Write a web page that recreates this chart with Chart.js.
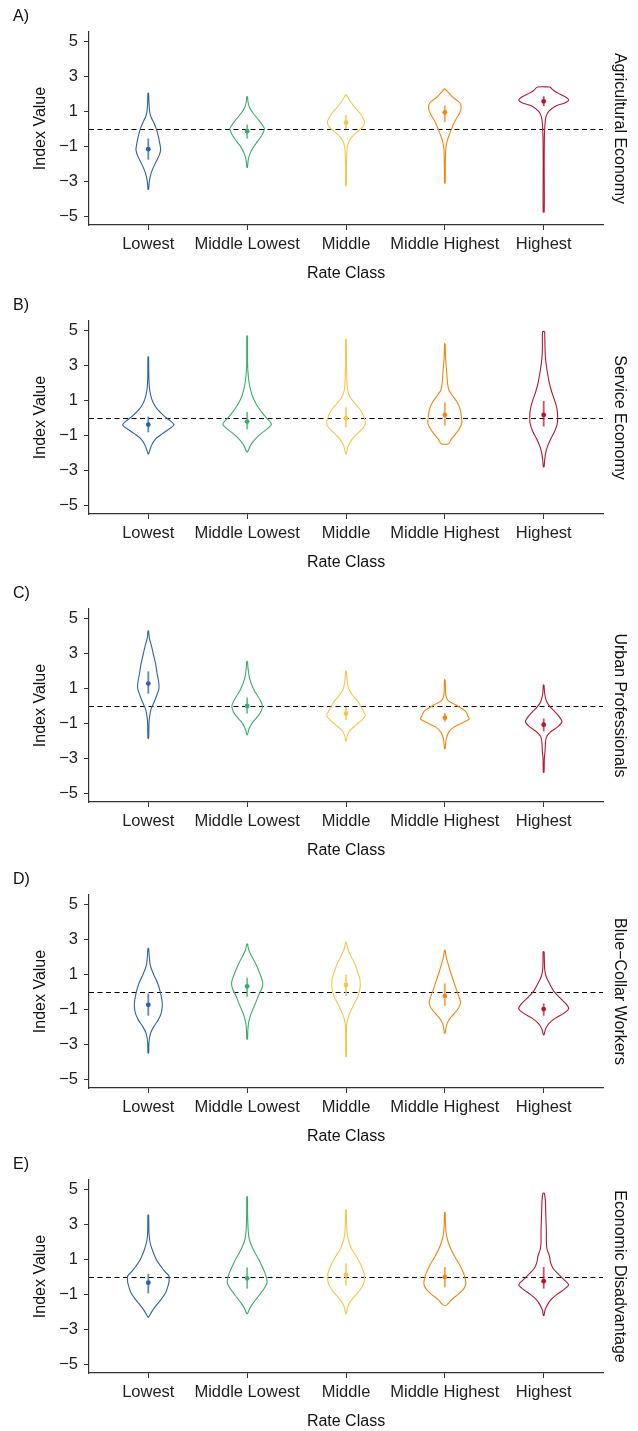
<!DOCTYPE html>
<html>
<head>
<meta charset="utf-8">
<script src="https://cdn.jsdelivr.net/npm/chart.js@4"></script>
<style>
  html, body { margin: 0; padding: 0; background: #fff; }
  #wrap { position: relative; width: 638px; height: 1431px; overflow: hidden; }
  #wrap canvas { position: absolute; left: 0; }
</style>
</head>
<body>
<div id="wrap"></div>
<script>
// --- data ---
var categories = ["Lowest", "Middle Lowest", "Middle", "Middle Highest", "Highest"];
var panelLetters = ["A)", "B)", "C)", "D)", "E)"];
var indexNames = ["Agricultural Economy", "Service Economy", "Urban Professionals", "Blue\u2212Collar Workers", "Economic Disadvantage"];
var yTicks = [-5, -3, -1, 1, 3, 5];
var refValue = 0;

// point estimate per rate class, one row per panel
var means = [
    [-1.16, -0.13, 0.36, 0.95, 1.58],
    [-0.38, -0.21, -0.02, 0.17, 0.17],
    [1.28, 0.0, -0.44, -0.67, -1.07],
    [-0.74, 0.32, 0.40, -0.23, -0.98],
    [-0.33, -0.08, 0.11, 0.0, -0.24]
];
var barLow = [
    [-1.76, -0.55, 0.0, 0.40, 1.30],
    [-0.82, -0.65, -0.55, -0.44, -0.49],
    [0.70, -0.44, -0.82, -0.91, -1.45],
    [-1.36, -0.28, -0.23, -0.79, -1.36],
    [-0.94, -0.67, -0.50, -0.59, -0.67]
];
var barHigh = [
    [-0.55, 0.25, 0.78, 1.35, 1.87],
    [0.08, 0.34, 0.61, 0.89, 0.97],
    [1.98, 0.48, -0.06, -0.40, -0.72],
    [-0.10, 0.81, 1.00, 0.49, -0.66],
    [0.18, 0.54, 0.77, 0.56, 0.57]
];

// violin outlines: [value, density width], top to bottom
var violinsA = [
    [[2.05,1],[1.5,2],[1.0,4],[0.7,8],[0.3,18],[0,24],[-0.5,31],[-1.0,36],[-1.2,37],[-1.5,33],[-2.0,20],[-2.5,9],[-3.0,3],[-3.45,1]],
    [[1.85,1],[1.5,3],[1.2,8],[0.9,18],[0.5,35],[0.1,50],[0,52],[-0.3,46],[-0.7,32],[-1.0,20],[-1.4,9],[-1.8,3],[-2.2,1]],
    [[1.95,1],[1.6,12],[1.3,24],[1.0,38],[0.6,52],[0.35,56],[0.1,50],[-0.2,32],[-0.5,16],[-0.8,7],[-1.2,3],[-2.0,1.5],[-3.25,1]],
    [[2.3,1],[2.1,10],[1.8,25],[1.5,45],[1.2,49],[0.9,44],[0.5,32],[0.2,24],[0,20],[-0.3,14],[-0.7,7],[-1.1,3],[-2.0,1.5],[-3.1,1]],
    [[2.4,19],[2.2,30],[2.0,48],[1.8,68],[1.65,75],[1.5,65],[1.3,35],[1.0,15],[0.7,7],[0.3,4],[0,3],[-0.5,2],[-2.0,1.5],[-4.75,1.5]]
];
var violinsB = [
    [[3.5,1],[2.5,1.5],[1.8,3],[1.3,7],[0.9,14],[0.5,27],[0.1,48],[-0.2,68],[-0.4,77],[-0.6,65],[-0.9,42],[-1.2,22],[-1.6,9],[-2.05,1]],
    [[4.7,1],[3.0,1.5],[2.3,4],[1.8,8],[1.3,15],[0.8,27],[0.3,45],[0,58],[-0.35,73],[-0.6,62],[-0.9,42],[-1.2,25],[-1.5,12],[-1.95,1]],
    [[4.5,1],[3.0,1.5],[2.0,3],[1.6,5],[1.2,12],[0.9,24],[0.5,42],[0.1,53],[-0.35,58],[-0.7,45],[-1.0,28],[-1.4,12],[-1.7,5],[-2.05,1]],
    [[4.25,1],[3.5,2],[3.0,4],[2.5,6],[2.0,8],[1.6,12],[1.3,22],[0.9,37],[0.5,46],[0,50],[-0.3,51],[-0.6,44],[-0.9,33],[-1.2,20],[-1.48,11]],
    [[4.95,3],[4.0,4],[3.5,5],[3.0,8],[2.5,12],[2.0,17],[1.5,24],[1.0,33],[0.5,40],[0,42],[-0.4,40],[-0.8,32],[-1.2,21],[-1.6,12],[-2.0,6],[-2.4,3],[-2.8,1]]
];
var violinsC = [
    [[4.3,1],[3.9,3],[3.4,10],[2.9,16],[2.4,22],[1.9,26],[1.4,31],[1.0,32],[0.6,25],[0.2,17],[-0.2,8],[-0.6,4],[-1.0,2],[-1.85,1]],
    [[2.55,1],[2.1,3],[1.6,7],[1.2,14],[0.8,24],[0.4,37],[0,46],[-0.3,42],[-0.6,32],[-0.9,18],[-1.2,8],[-1.4,4],[-1.65,1]],
    [[2.0,1],[1.5,3],[1.0,8],[0.6,20],[0.3,34],[0,44],[-0.3,52],[-0.55,58],[-0.8,48],[-1.1,30],[-1.4,12],[-1.7,4],[-2.0,1]],
    [[1.5,1],[1.0,2],[0.6,3],[0.3,10],[0,38],[-0.3,62],[-0.6,70],[-0.75,73],[-0.95,55],[-1.2,28],[-1.5,12],[-1.9,4],[-2.45,1]],
    [[1.2,1],[0.7,3],[0.3,8],[0,17],[-0.3,32],[-0.6,46],[-0.9,55],[-1.2,42],[-1.5,20],[-1.8,8],[-2.2,5],[-2.6,4],[-3.0,2],[-3.8,1]]
];
var violinsD = [
    [[2.5,1],[2.0,3],[1.5,6],[1.0,16],[0.5,28],[0,36],[-0.5,41],[-0.8,42],[-1.2,39],[-1.6,30],[-2.0,16],[-2.4,6],[-2.9,2],[-3.5,1]],
    [[2.75,1],[2.4,5],[2.0,15],[1.6,26],[1.2,35],[0.8,43],[0.5,47],[0.2,44],[-0.2,34],[-0.6,26],[-1.0,17],[-1.4,9],[-1.8,4],[-2.2,2],[-2.7,1]],
    [[2.85,1],[2.5,5],[2.0,16],[1.6,27],[1.2,34],[0.8,41],[0.4,43],[0.1,41],[-0.3,35],[-0.7,24],[-1.1,14],[-1.5,6],[-1.9,2],[-2.5,1.5],[-3.7,1]],
    [[2.4,1],[2.0,4],[1.6,10],[1.2,16],[0.8,23],[0.4,30],[0,37],[-0.3,43],[-0.6,47],[-0.9,42],[-1.2,30],[-1.5,16],[-1.8,7],[-2.1,3],[-2.35,1]],
    [[2.3,1.5],[1.8,2],[1.3,3],[0.9,7],[0.5,17],[0,32],[-0.4,52],[-0.7,68],[-0.95,75],[-1.2,62],[-1.5,35],[-1.8,16],[-2.1,6],[-2.45,1]]
];
var violinsE = [
    [[3.55,1],[3.0,1.5],[2.5,2],[2.0,5],[1.5,13],[1.0,24],[0.6,38],[0.3,50],[0.05,62],[-0.3,62],[-0.6,58],[-0.9,52],[-1.3,38],[-1.7,21],[-2.0,10],[-2.3,1]],
    [[4.6,1],[3.5,1.5],[2.7,3],[2.2,6],[1.8,13],[1.4,23],[1.0,35],[0.6,45],[0.2,54],[-0.3,60],[-0.6,53],[-0.9,42],[-1.2,30],[-1.5,18],[-1.8,8],[-2.1,1]],
    [[3.85,1],[3.0,2],[2.4,4],[2.0,9],[1.6,17],[1.2,30],[0.8,42],[0.4,51],[0.1,55],[-0.3,54],[-0.6,47],[-0.9,36],[-1.2,22],[-1.5,10],[-1.8,4],[-2.1,1]],
    [[3.7,1],[3.0,2],[2.5,4],[2.0,10],[1.6,18],[1.2,29],[0.8,41],[0.4,52],[0,60],[-0.4,63],[-0.7,56],[-1.0,40],[-1.3,20],[-1.6,6]],
    [[4.8,2],[4.4,5],[3.8,6],[3.2,7],[2.6,8],[2.0,8],[1.6,10],[1.2,17],[0.8,21],[0.5,28],[0.2,42],[-0.2,63],[-0.45,75],[-0.7,62],[-1.0,40],[-1.3,22],[-1.6,11],[-1.9,4],[-2.2,1]]
];
var violins = [violinsA, violinsB, violinsC, violinsD, violinsE];

// --- look ---
var colors = ["#2A62AF", "#3BAE69", "#F6C64A", "#F8840F", "#B5182E"];
var barColors = ["rgba(42,98,175,0.75)", "rgba(59,174,105,0.75)", "rgba(246,198,74,0.8)", "rgba(248,132,15,0.75)", "rgba(181,24,46,0.75)"];
var densityScale = 1 / 297;   // density width -> category units
var panelTops = [0, 289, 577, 863, 1148];
var W = 638, H = 283;
var FONT = "'Liberation Sans', Arial, Helvetica, sans-serif";

Chart.defaults.font.family = FONT;
Chart.defaults.font.size = 16;
Chart.defaults.color = "#222";

function violinPoints(center, profile) {
    var right = profile.map(function (p) { return {x: center + p[1] * densityScale, y: p[0]}; });
    var left = profile.slice().reverse().map(function (p) { return {x: center - p[1] * densityScale, y: p[0]}; });
    return right.concat(left, [right[0]]);
}

var panelText = {
    id: "panelText",
    beforeDatasetsDraw: function (chart) {
        var ctx = chart.ctx, a = chart.chartArea;
        var y0 = Math.round(chart.scales.y.getPixelForValue(refValue)) + 0.5;
        ctx.save();
        ctx.strokeStyle = "#000";
        ctx.lineWidth = 1;
        ctx.setLineDash([5, 3.5]);
        ctx.beginPath();
        ctx.moveTo(a.left, y0);
        ctx.lineTo(a.right, y0);
        ctx.stroke();
        ctx.restore();
    },
    afterDraw: function (chart, args, opts) {
        var ctx = chart.ctx, a = chart.chartArea;
        ctx.save();
        ctx.fillStyle = "#111";
        ctx.font = "16px " + FONT;
        ctx.textBaseline = "middle";
        ctx.textAlign = "left";
        ctx.fillText(opts.letter, 13, 17);
        ctx.translate(619, (a.top + a.bottom) / 2);
        ctx.rotate(Math.PI / 2);
        ctx.textAlign = "center";
        ctx.fillText(opts.strip, 0, 0);
        ctx.restore();
    }
};

function makePanel(k) {
    var canvas = document.createElement("canvas");
    canvas.width = W;
    canvas.height = H;
    canvas.style.top = panelTops[k] + "px";
    document.getElementById("wrap").appendChild(canvas);

    var datasets = [];
    categories.forEach(function (c, i) {
        datasets.push({
            data: violinPoints(i + 1, violins[k][i]),
            showLine: true,
            borderColor: colors[i],
            borderWidth: 1.1,
            pointRadius: 0,
            tension: 0.3,
            fill: false
        });
    });
    categories.forEach(function (c, i) {
        datasets.push({
            data: [{x: i + 1, y: barLow[k][i]}, {x: i + 1, y: barHigh[k][i]}],
            showLine: true,
            borderColor: barColors[i],
            borderWidth: 1.8,
            pointRadius: 0
        });
    });
    categories.forEach(function (c, i) {
        datasets.push({
            data: [{x: i + 1, y: means[k][i]}],
            pointRadius: 2.4,
            pointBackgroundColor: colors[i],
            pointBorderWidth: 0
        });
    });

    return new Chart(canvas, {
        type: "scatter",
        data: {datasets: datasets},
        options: {
            responsive: false,
            animation: false,
            devicePixelRatio: 1,
            layout: {padding: {left: 0, right: 35, top: 32, bottom: 0}},
            plugins: {
                legend: {display: false},
                tooltip: {enabled: false},
                panelText: {letter: panelLetters[k], strip: indexNames[k]}
            },
            scales: {
                x: {
                    type: "linear",
                    min: 0.4,
                    max: 5.6,
                    afterBuildTicks: function (scale) {
                        scale.ticks = categories.map(function (c, i) { return {value: i + 1}; });
                    },
                    afterFit: function (scale) { scale.height = 58; },
                    ticks: {
                        autoSkip: false,
                        maxRotation: 0,
                        padding: 5,
                        color: "#222",
                        font: {size: 16.5},
                        callback: function (v) { return categories[v - 1]; }
                    },
                    grid: {display: true, drawOnChartArea: false, drawTicks: true, tickLength: 5, tickColor: "#333", tickWidth: 1},
                    border: {display: true, color: "#333", width: 1.2},
                    title: {display: true, text: "Rate Class", color: "#111", padding: {top: 0, bottom: 0}}
                },
                y: {
                    type: "linear",
                    min: -5.5,
                    max: 5.55,
                    afterBuildTicks: function (scale) {
                        scale.ticks = yTicks.map(function (v) { return {value: v}; });
                    },
                    afterFit: function (scale) { scale.width = 89; },
                    ticks: {
                        padding: 6,
                        color: "#222",
                        font: {size: 16.5},
                        callback: function (v) { return v < 0 ? "\u2212" + Math.abs(v) : String(v); }
                    },
                    grid: {display: true, drawOnChartArea: false, drawTicks: true, tickLength: 5, tickColor: "#333", tickWidth: 1},
                    border: {display: true, color: "#333", width: 1.2},
                    title: {display: true, text: "Index Value", color: "#111", padding: {top: 31, bottom: 0}}
                }
            }
        },
        plugins: [panelText]
    });
}

for (var k = 0; k < 5; k++) {
    makePanel(k);
}
</script>
</body>
</html>
